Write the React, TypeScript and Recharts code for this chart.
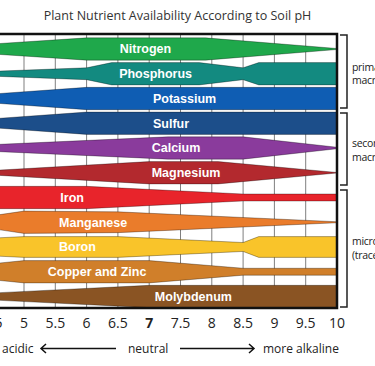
import React from 'react';
import { ComposedChart, Area, XAxis, YAxis, CartesianGrid, Scatter, ReferenceArea } from 'recharts';

// Nutrient rows (top to bottom)
const nutrients = [
  'Nitrogen', 'Phosphorus', 'Potassium', 'Sulfur', 'Calcium', 'Magnesium',
  'Iron', 'Manganese', 'Boron', 'Copper and Zinc', 'Molybdenum',
];
const bandColors = [
  '#1fa84b', '#138a80', '#0f5db3', '#1c4e8a', '#8a3b9c', '#b3292e',
  '#e8242b', '#ea7c2b', '#f9c42a', '#d07f2a', '#8a5423',
];

// Availability (band half-thickness, in row units) at pH breakpoints
const nitrogenPh = [4, 6, 7.9, 10];
const nitrogenAvail = [0.12, 0.45, 0.45, 0.02];
const phosphorusPh = [4, 6, 6.4, 7.8, 8.5, 8.75, 10];
const phosphorusAvail = [0.05, 0.24, 0.45, 0.45, 0.24, 0.45, 0.45];
const potassiumPh = [4, 6, 10];
const potassiumAvail = [0.09, 0.45, 0.45];
const sulfurPh = [4, 6, 10];
const sulfurAvail = [0.09, 0.45, 0.45];
const calciumPh = [4, 7.3, 8.5, 10];
const calciumAvail = [0.08, 0.45, 0.45, 0.03];
const magnesiumPh = [4, 7, 8.1, 10];
const magnesiumAvail = [0.02, 0.45, 0.45, 0.01];
const ironPh = [4, 6, 8.5, 10];
const ironAvail = [0.45, 0.45, 0.14, 0.14];
const manganesePh = [4, 5, 6.5, 10];
const manganeseAvail = [0.08, 0.45, 0.42, 0.02];
const boronPh = [4, 5, 6.5, 8.5, 8.75, 10];
const boronAvail = [0.3, 0.42, 0.42, 0.18, 0.42, 0.42];
const copperZincPh = [4, 5, 7, 8.5, 10];
const copperZincAvail = [0.2, 0.45, 0.45, 0.14, 0.14];
const molybdenumPh = [4, 7, 10];
const molybdenumAvail = [0.08, 0.45, 0.45];

const labelPh = [6.53, 6.52, 7.06, 7.06, 7.04, 7.04, 5.58, 5.56, 5.56, 5.38, 7.09];
const phTicks = [4, 4.5, 5, 5.5, 6, 6.5, 7, 7.5, 8, 8.5, 9, 9.5, 10];

const title = 'Plant Nutrient Availability According to Soil pH';
const groupLabels = [
  ['primary', 'macronutrients'],
  ['secondary', 'macronutrients'],
  ['micronutrients', '(trace elements)'],
];

const bandSeries = [
  [nitrogenPh, nitrogenAvail],
  [phosphorusPh, phosphorusAvail],
  [potassiumPh, potassiumAvail],
  [sulfurPh, sulfurAvail],
  [calciumPh, calciumAvail],
  [magnesiumPh, magnesiumAvail],
  [ironPh, ironAvail],
  [manganesePh, manganeseAvail],
  [boronPh, boronAvail],
  [copperZincPh, copperZincAvail],
  [molybdenumPh, molybdenumAvail],
].map(([ph, w], i) =>
  (ph as number[]).map((p, j) => ({ ph: p, v: [i - (w as number[])[j], i + (w as number[])[j]] }))
);

const labelData = nutrients.map((name, i) => ({ ph: labelPh[i], row: i, name }));

const Y_MIN = -0.606;
const Y_MAX = 10.465;

const PhTick = (props: any) => {
  const { x, y, payload } = props;
  return (
    <text x={x} y={y} dy="0.71em" textAnchor="middle" fontFamily="Open Sans" fontSize={14}
      fontWeight={payload.value === 7 ? 700 : 400} fill="#222">
      {payload.value}
    </text>
  );
};

const LabelShape = (props: any) => {
  const { cx, cy, payload } = props;
  return (
    <text x={cx} y={cy} dy="0.36em" textAnchor="start" fontFamily="Liberation Sans, Arial"
      fontWeight={700} fontSize={12.5} fill="#fff">
      {payload.name}
    </text>
  );
};

export default function App() {
  return (
    <div style={{ position: 'fixed', left: 0, top: 0, width: 375, height: 366, overflow: 'hidden', background: '#fff' }}>
      <div style={{ position: 'absolute', left: -50, top: 0 }}>
        <ComposedChart width={450} height={366} margin={{ top: 34, right: 63, bottom: 0, left: 11.4 }}>
          <XAxis dataKey="ph" type="number" domain={[4, 10]} ticks={phTicks} allowDataOverflow
            axisLine={false} tickLine={false} tickSize={0} tickMargin={10} height={58} tick={PhTick} interval={0} />
          <YAxis type="number" domain={[Y_MIN, Y_MAX]} reversed hide allowDataOverflow />
          {bandSeries.map((data, i) => (
            <Area key={nutrients[i]} data={data} dataKey="v" type="linear" fill={bandColors[i]} fillOpacity={1}
              stroke="rgba(0,0,0,0.4)" strokeWidth={0.8} isAnimationActive={false} dot={false} activeDot={false} />
          ))}
          <CartesianGrid horizontal={false} vertical stroke="#000" strokeOpacity={0.5} strokeWidth={1} />
          <Scatter data={labelData} dataKey="row" shape={LabelShape} isAnimationActive={false} />
          <ReferenceArea x1={4} x2={10} y1={Y_MIN} y2={Y_MAX} fill="none" stroke="#111" strokeWidth={2.5} ifOverflow="visible" />
        </ComposedChart>
      </div>
      <svg width={375} height={366} style={{ position: 'absolute', left: 0, top: 0, pointerEvents: 'none' }}>
        <text x={177.5} y={19.5} textAnchor="middle" fontFamily="Open Sans" fontSize={12.5} fill="#333">{title}</text>
        <g stroke="#222" strokeWidth={1.5} fill="none">
          <path d="M340 35 H347 V108 H340" />
          <path d="M340 113 H347 V185 H340" />
          <path d="M340 190 H347 V307 H340" />
        </g>
        <g fontFamily="Open Sans" fontSize={10.5} letterSpacing={-0.3} fill="#222">
          <text x={352} y={70.5}>{groupLabels[0][0]}</text>
          <text x={352} y={84}>{groupLabels[0][1]}</text>
          <text x={352} y={146.5}>{groupLabels[1][0]}</text>
          <text x={352} y={160.5}>{groupLabels[1][1]}</text>
          <text x={352} y={245}>{groupLabels[2][0]}</text>
          <text x={352} y={258.5}>{groupLabels[2][1]}</text>
        </g>
        <g fontFamily="Open Sans" fontSize={12} fill="#222">
          <text x={2} y={353}>acidic</text>
          <text x={128} y={353}>neutral</text>
          <text x={263} y={353}>more alkaline</text>
        </g>
        <g stroke="#111" strokeWidth={1.5} fill="none">
          <path d="M41 348.5 H116 M46 344 L41 348.5 L46 353" />
          <path d="M180 348.5 H254 M249 344 L254 348.5 L249 353" />
        </g>
      </svg>
    </div>
  );
}
